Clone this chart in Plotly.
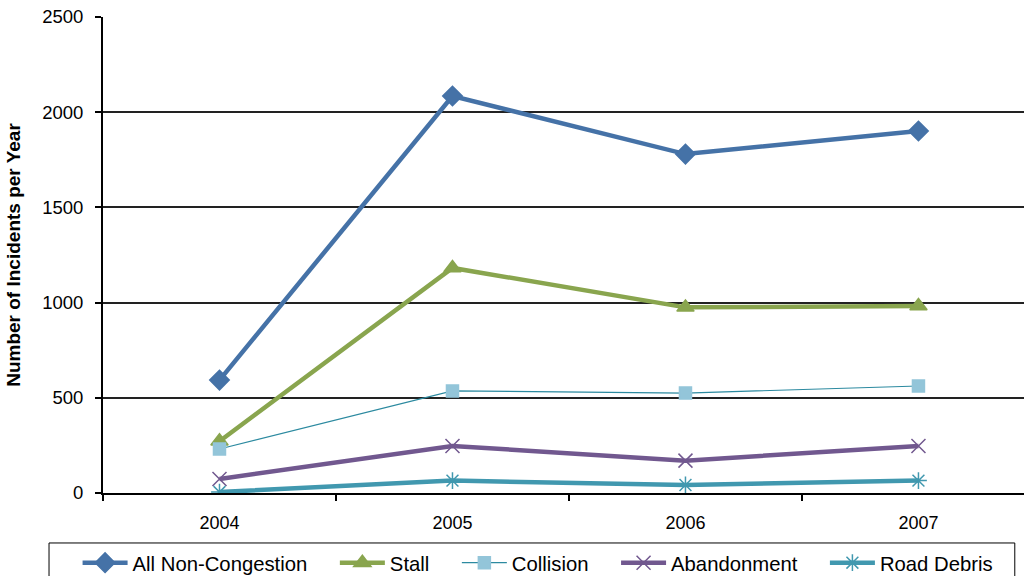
import plotly.graph_objects as go

years = ["2004", "2005", "2006", "2007"]
all_non_congestion = [593, 2085, 1780, 1901]
stall = [272, 1182, 975, 982]
collision = [231, 536, 525, 562]
abandonment = [74, 247, 170, 247]
road_debris = [5, 65, 42, 65]

y_ticks = [0, 500, 1000, 1500, 2000, 2500]

series = [
    dict(name="All Non-Congestion", y=all_non_congestion, color="#4572A7", mcolor="#4572A7",
         width=4.5, symbol="diamond", size=15),
    dict(name="Stall", y=stall, color="#89A54E", mcolor="#89A54E",
         width=4.5, symbol="triangle-up", size=15),
    dict(name="Collision", y=collision, color="#2C8AA0", mcolor="#93C5D9",
         width=1.2, symbol="square", size=12),
    dict(name="Abandonment", y=abandonment, color="#71588F", mcolor="#71588F",
         width=4.5, symbol="x-thin-open", size=14),
    dict(name="Road Debris", y=road_debris, color="#4198AF", mcolor="#4198AF",
         width=4.5, symbol="asterisk-open", size=14),
]

PAD = "\u00a0" * 4

fig = go.Figure()
for i, s in enumerate(series):
    label = s["name"] + (PAD if i < len(series) - 1 else "")
    fig.add_trace(go.Scatter(
        x=years, y=s["y"], name=label, mode="lines+markers",
        line=dict(color=s["color"], width=s["width"]),
        marker=dict(symbol=s["symbol"], size=s["size"], color=s["mcolor"],
                    line=dict(color=s["mcolor"], width=1.5)),
    ))

# legend frame (extends past the bottom of the page as in the reference)
fig.add_shape(type="rect", xref="paper", yref="paper",
              x0=-0.0586, x1=0.990, y0=-0.105, y1=-0.25,
              line=dict(color="#000", width=1), fillcolor="rgba(0,0,0,0)", layer="above")

fig.update_layout(
    width=1024, height=576,
    margin=dict(l=103, r=0, t=17, b=83, autoexpand=False),
    paper_bgcolor="white", plot_bgcolor="white",
    font=dict(family="Liberation Sans, Arial, sans-serif", color="#000", size=18),
    showlegend=True,
    legend=dict(
        orientation="h", x=-0.0276, y=-0.105, xanchor="left", yanchor="top",
        borderwidth=0, bgcolor="rgba(0,0,0,0)",
        font=dict(size=20.3), itemwidth=45,
    ),
    xaxis=dict(
        type="category", range=[-0.5, 3.453],
        showgrid=False, showline=True, linecolor="#000", linewidth=2,
        ticks="outside", tickson="boundaries", ticklen=6, tickwidth=1.5, tickcolor="#000",
        tickfont=dict(size=18), zeroline=False, ticklabelstandoff=12,
    ),
    yaxis=dict(
        range=[0, 2500], tickvals=y_ticks,
        showgrid=True, gridcolor="#222", gridwidth=1.5,
        showline=True, linecolor="#000", linewidth=2,
        ticks="outside", ticklen=6, tickwidth=1.5, tickcolor="#000",
        tickfont=dict(size=18.5), zeroline=False, ticklabelstandoff=8,
        title=dict(text="<b>Number of Incidents per Year</b>", font=dict(size=19), standoff=16),
    ),
)

fig.write_html("out.html")
